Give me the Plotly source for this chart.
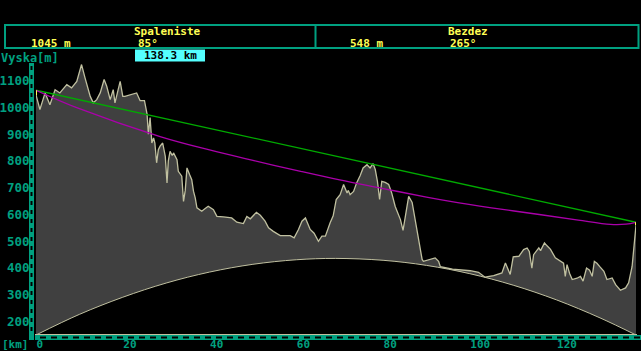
import plotly.graph_objects as go

# ---------------- data ----------------
terrain_km = [0.0, 0.9, 2.1, 3.2, 4.4, 5.5, 7.1, 8.2, 9.4, 10.5, 11.3, 12.5, 13.2, 14.0, 14.8,
              15.7, 16.3, 17.1, 17.8, 18.2, 19.4, 20.0, 20.5, 21.7, 23.2, 24.0, 25.0, 25.6, 25.9,
              26.3, 26.7, 27.1, 27.4, 27.8, 28.2, 28.6, 29.2, 29.8, 30.2, 30.5, 30.9, 31.4, 31.7,
              32.5, 32.8, 33.6, 34.0, 34.4, 34.8, 35.4, 35.9, 36.3, 36.7, 37.1, 38.2, 39.0, 39.7,
              40.9, 41.7, 43.2, 45.1, 46.3, 47.8, 48.6, 49.4, 50.8, 51.7, 52.8, 53.6, 54.7, 56.3,
              58.6, 59.5, 60.5, 61.3, 62.1, 62.8, 63.2, 64.1, 65.1, 65.9, 66.7, 67.8, 68.5, 69.2,
              70.1, 70.9, 71.7, 72.0, 72.4, 73.2, 73.9, 74.7, 75.4, 76.3, 77.0, 77.7, 78.2, 78.7,
              79.2, 79.7, 80.5, 81.3, 82.0, 82.8, 84.0, 84.6, 85.4, 85.9, 86.7, 87.4, 88.2, 89.0,
              89.3, 90.5, 92.0, 92.8, 93.2, 96.0, 98.5, 100.1, 102.0, 103.5, 105.5, 107.4, 108.2,
              109.3, 110.0, 111.3, 112.4, 113.2, 113.7, 114.3, 114.7, 115.9, 116.3, 117.2, 117.8,
              118.6, 119.7, 120.9, 121.6, 122.0, 122.4, 123.0, 123.6, 124.7, 125.5, 126.1, 126.9,
              127.6, 128.2, 128.7, 129.3, 129.9, 130.9, 131.6, 132.8, 133.6, 134.7, 135.9, 136.6,
              137.4, 137.9, 138.3]
terrain_m = [1047, 992, 1054, 1010, 1066, 1054, 1085, 1073, 1097, 1160, 1110, 1041, 1017, 1029, 1054,
             1104, 1079, 1029, 1066, 1017, 1097, 1041, 1041, 1048, 1054, 1025, 1025, 975, 900,
             962, 867, 886, 867, 793, 842, 855, 867, 817, 718, 800, 836, 820, 830,
             805, 761, 743, 649, 690, 774, 749, 730, 687, 662, 625, 612, 622, 631,
             618, 593, 591, 587, 571, 566, 593, 584, 608, 597, 575, 550, 537, 521,
             521, 513, 544, 575, 587, 562, 544, 530, 500, 519, 519, 569, 595, 656,
             674, 712, 680, 690, 674, 686, 718, 745, 774, 786, 774, 790, 768, 724,
             656, 724, 720, 712, 680, 630, 581, 541, 618, 668, 645, 581, 494, 432,
             425, 430, 438, 425, 405, 396, 392, 390, 384, 366, 372, 382, 419,
             376, 442, 444, 469, 475, 462, 400, 450, 475, 465, 494, 483,
             470, 438, 425, 418, 369, 413, 380, 357, 362, 369, 351, 400,
             392, 369, 425, 418, 406, 388, 357, 363, 338, 317, 326, 345,
             406, 494, 560]

earth_km = [0, 10, 20, 30, 40, 50, 60, 69, 80, 90, 100, 110, 120, 130, 138.3]
earth_m = [150, 227, 291, 344, 385, 414, 431, 436, 429, 410, 379, 336, 281, 214, 150]

los_km = [0, 138.3]
los_m = [1064, 571]

ray_km = [0, 10, 28.6, 40, 50, 61, 70, 80, 90, 95.5, 105, 116, 125, 132.4, 136, 138.3]
ray_m = [1064, 995, 891, 841, 802, 761, 729, 697, 665, 649, 625, 600, 579, 563, 564, 571]

ant_a_km, ant_a_m = [0, 0], [1045, 1064]
ant_b_km, ant_b_m = [138.3, 138.3], [560, 571]

x_ticks = [0, 20, 40, 60, 80, 100, 120]
y_ticks = [200, 300, 400, 500, 600, 700, 800, 900, 1000, 1100]

site_a = ["Spaleniste", "1045 m", "85°"]
site_b = ["Bezdez", "548 m", "265°"]
dist_label = "138.3 km"
y_title = "Vyska[m]"
x_title = "[km]"

# ---------------- style ----------------
TEAL = "#00a080"
KHAKI = "#c0c0a0"
YEL = "#ffff55"
FONT = "DejaVu Sans Mono"
W, H = 641, 351
L, R, T, B = 36, 5, 64, 16
PW, PH = W - L - R, H - T - B


def px(x):
    return (x - L) / PW


def py(y):
    return (H - B - y) / PH


fig = go.Figure()
fig.add_trace(go.Scatter(x=earth_km, y=earth_m, mode="lines", line=dict(color=KHAKI, width=1, shape="spline"),
                         hoverinfo="skip"))
fig.add_trace(go.Scatter(x=terrain_km, y=terrain_m, mode="lines", line=dict(color=KHAKI, width=1.3),
                         fill="tonexty", fillcolor="#404040", hoverinfo="skip"))
fig.add_trace(go.Scatter(x=los_km, y=los_m, mode="lines", line=dict(color="#00aa00", width=1.3)))
fig.add_trace(go.Scatter(x=ray_km, y=ray_m, mode="lines", line=dict(color="#aa00aa", width=1.3, shape="spline")))
fig.add_trace(go.Scatter(x=ant_a_km, y=ant_a_m, mode="lines", line=dict(color=YEL, width=2)))
fig.add_trace(go.Scatter(x=ant_b_km, y=ant_b_m, mode="lines", line=dict(color=YEL, width=2)))

shapes = []
# baseline
shapes.append(dict(type="line", xref="paper", yref="paper", x0=px(35), x1=px(637), y0=py(334.5), y1=py(334.5),
                   line=dict(color=KHAKI, width=1), layer="above"))
# x bar
shapes.append(dict(type="line", xref="paper", yref="paper", x0=px(35), x1=px(641), y0=py(337.5), y1=py(337.5),
                   line=dict(color=TEAL, width=5), layer="above"))
shapes.append(dict(type="line", xref="paper", yref="paper", x0=px(40), x1=px(641), y0=py(337.5), y1=py(337.5),
                   line=dict(color="black", width=2, dash="6px,5px"), layer="above"))
# y bar
shapes.append(dict(type="line", xref="paper", yref="paper", x0=px(31.5), x1=px(31.5), y0=py(63), y1=py(340),
                   line=dict(color=TEAL, width=5), layer="above"))
shapes.append(dict(type="line", xref="paper", yref="paper", x0=px(31.5), x1=px(31.5), y0=py(66), y1=py(334),
                   line=dict(color="black", width=2, dash="4px,5px"), layer="above"))
# header box
shapes.append(dict(type="rect", xref="paper", yref="paper", x0=px(5), x1=px(638.5), y0=py(25), y1=py(48),
                   line=dict(color=TEAL, width=2), fillcolor="rgba(0,0,0,0)"))
shapes.append(dict(type="line", xref="paper", yref="paper", x0=px(315.5), x1=px(315.5), y0=py(25), y1=py(48),
                   line=dict(color=TEAL, width=2)))
# distance box
shapes.append(dict(type="rect", xref="paper", yref="paper", x0=px(135), x1=px(205), y0=py(49.5), y1=py(61.5),
                   line=dict(width=0), fillcolor="#55ffff"))
fig.update_layout(shapes=shapes)


def ann(text, x, y, color, anchor="left", size=12, yanchor="middle"):
    fig.add_annotation(text=text, xref="paper", yref="paper", x=px(x), y=py(y), xanchor=anchor,
                       yanchor=yanchor, showarrow=False,
                       font=dict(family=FONT, size=size, color=color, weight="bold"), borderpad=0)


ann(site_a[0], 167, 31, YEL, "center", 11)
ann(site_a[1], 30, 43.5, YEL, size=11)
ann(site_a[2], 137, 43.5, YEL, size=11)
ann(site_b[0], 468, 31, YEL, "center", 11)
ann(site_b[1], 349, 43.5, YEL, size=11)
ann(site_b[2], 449, 43.5, YEL, size=11)
ann(dist_label, 170, 56, "black", "center", 11)
ann(y_title, 0, 58, TEAL)
ann(x_title, 1, 344, TEAL, size=11)

fig.update_layout(
    width=W, height=H,
    margin=dict(l=L, r=R, t=T, b=B, pad=0),
    paper_bgcolor="black", plot_bgcolor="black",
    showlegend=False,
    xaxis=dict(range=[0, 138.3], tickvals=x_ticks, showgrid=False, zeroline=False, showline=False,
               automargin=False,
               ticks="outside", ticklen=4, tickcolor=KHAKI, tickwidth=1,
               ticklabelposition="outside right", ticklabelstandoff=-1,
               tickfont=dict(family=FONT, size=11, color=TEAL, weight="bold")),
    yaxis=dict(range=[150, 1162], tickvals=y_ticks, showgrid=False, zeroline=False, showline=False,
               automargin=False,
               ticks="outside", ticklen=3, tickcolor="rgba(0,0,0,0)",
               tickfont=dict(family=FONT, size=12.5, color=TEAL, weight="bold")),
)

fig.write_html("out.html")
